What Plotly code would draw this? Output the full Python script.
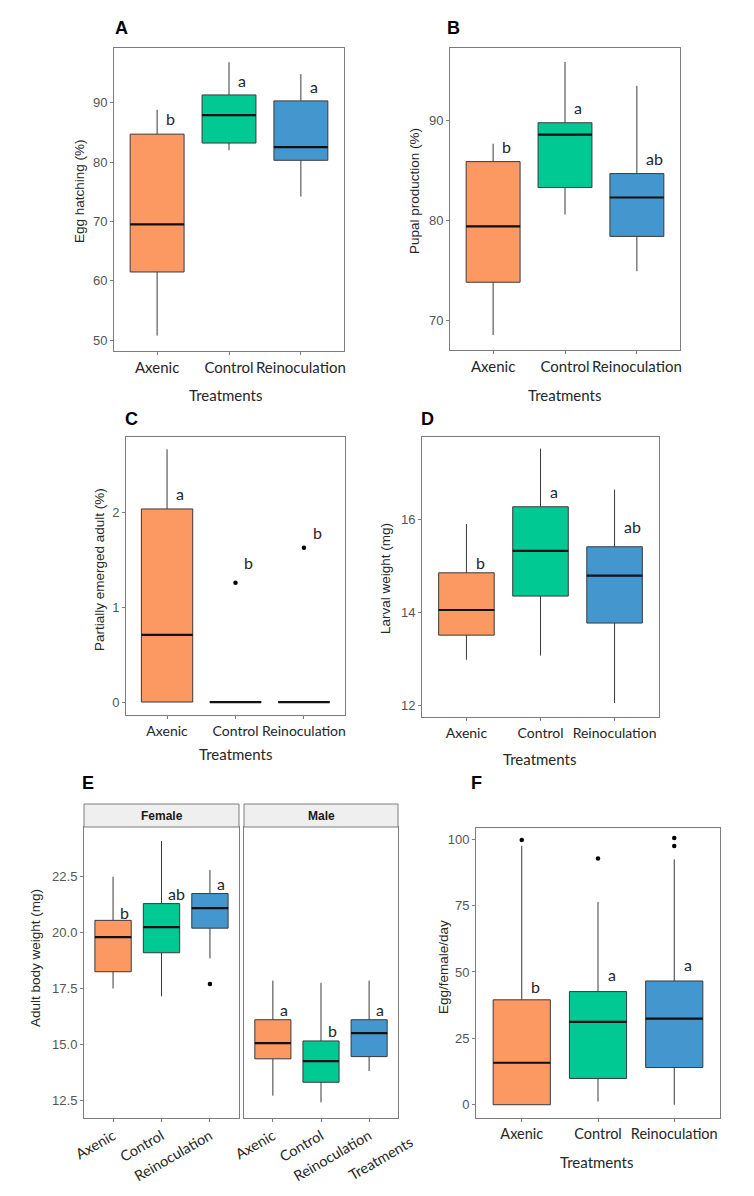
import plotly.graph_objects as go

# page body has an 8px margin; the figure is drawn so that reference pixel
# coordinates land on the same page pixels
OFF = 8
W, H = 738, 1180

treatments = ["Axenic", "Control", "Reinoculation"]
colors = ["#FC9963", "#00C994", "#4497CE"]

# ---- Panel A: Egg hatching (%)
egg_lo = [50.8, 82.0, 74.2]
egg_q1 = [61.5, 83.2, 80.3]
egg_med = [69.5, 87.9, 82.5]
egg_q3 = [84.7, 91.3, 90.3]
egg_hi = [88.8, 96.8, 94.8]
egg_letters = ["b", "a", "a"]
egg_letter_y = [87.3, 93.8, 92.7]
egg_ticks = [50, 60, 70, 80, 90]

# ---- Panel B: Pupal production (%)
pup_lo = [68.5, 80.6, 74.9]
pup_q1 = [73.8, 83.3, 78.4]
pup_med = [79.4, 88.6, 82.3]
pup_q3 = [85.9, 89.8, 84.7]
pup_hi = [87.7, 95.9, 93.5]
pup_letters = ["b", "a", "ab"]
pup_letter_y = [87.4, 91.3, 86.2]
pup_ticks = [70, 80, 90]

# ---- Panel C: Partially emerged adult (%)
pea_lo = [0.0, 0.0, 0.0]
pea_q1 = [0.0, 0.0, 0.0]
pea_med = [0.71, 0.0, 0.0]
pea_q3 = [2.04, 0.0, 0.0]
pea_hi = [2.67, 0.0, 0.0]
pea_out_x = [1, 2]
pea_out_y = [1.26, 1.63]
pea_letters = ["a", "b", "b"]
pea_letter_y = [2.2, 1.47, 1.79]
pea_ticks = [0, 1, 2]

# ---- Panel D: Larval weight (mg)
lw_lo = [12.99, 13.08, 12.06]
lw_q1 = [13.52, 14.36, 13.78]
lw_med = [14.06, 15.33, 14.8]
lw_q3 = [14.86, 16.28, 15.42]
lw_hi = [15.91, 17.53, 16.65]
lw_letters = ["b", "a", "ab"]
lw_letter_y = [15.08, 16.6, 15.85]
lw_ticks = [12, 14, 16]

# ---- Panel E: Adult body weight (mg), Female / Male
abw_f_lo = [17.5, 17.15, 18.85]
abw_f_q1 = [18.25, 19.1, 20.2]
abw_f_med = [19.8, 20.25, 21.1]
abw_f_q3 = [20.55, 21.3, 21.75]
abw_f_hi = [22.5, 24.1, 22.8]
abw_f_out_x = [2]
abw_f_out_y = [17.7]
abw_f_letters = ["b", "ab", "a"]
abw_f_letter_y = [20.9, 21.75, 22.2]

abw_m_lo = [12.7, 12.4, 13.8]
abw_m_q1 = [14.35, 13.3, 14.45]
abw_m_med = [15.05, 14.25, 15.5]
abw_m_q3 = [16.1, 15.15, 16.1]
abw_m_hi = [17.85, 17.75, 17.85]
abw_m_letters = ["a", "b", "a"]
abw_m_letter_y = [16.55, 15.6, 16.55]
abw_tickvals = [12.5, 15.0, 17.5, 20.0, 22.5]
abw_ticktext = ["12.5", "15.0", "17.5", "20.0", "22.5"]
sexes = ["Female", "Male"]

# ---- Panel F: Egg/female/day
efd_lo = [0.0, 1.2, 0.0]
efd_q1 = [0.0, 9.9, 14.0]
efd_med = [15.8, 31.2, 32.4]
efd_q3 = [39.5, 42.6, 46.6]
efd_hi = [97.5, 76.3, 92.4]
efd_out_x = [0, 1, 2, 2]
efd_out_y = [99.7, 92.7, 100.4, 97.4]
efd_letters = ["b", "a", "a"]
efd_letter_y = [44.6, 49.2, 52.7]
efd_ticks = [0, 25, 50, 75, 100]

panel_labels = ["A", "B", "C", "D", "E", "F"]
y_titles = ["Egg hatching (%)", "Pupal production (%)", "Partially emerged adult (%)",
            "Larval weight (mg)", "Adult body weight (mg)", "Egg/female/day"]
x_title = "Treatments"

FRAME = "#7d7d7d"
TICKFONT = dict(family="Liberation Sans, Arial", size=13, color="#555555")
XTICKFONT = dict(family="Lato, Open Sans", size=15, color="#262626")
LETTERFONT = dict(family="Lato, Open Sans", size=16, color="#262626")
TITLEFONT = dict(family="Liberation Sans, Arial", size=13.5, color="#262626")
XTITLEFONT = dict(family="Lato, Open Sans", size=15, color="#262626")


def px(x):
    return (x - OFF) / W


def py(y):
    return 1 - (y - OFF) / H


fig = go.Figure()
annotations = []
shapes = []


def add_boxes(ax, lo, q1, med, q3, hi, letters, letter_y, out_x=None, out_y=None):
    xa, ya = "x" + ax, "y" + ax
    for i in range(3):
        fig.add_trace(go.Box(
            x=[i], q1=[q1[i]], median=[med[i]], q3=[q3[i]],
            lowerfence=[lo[i]], upperfence=[hi[i]],
            width=0.75, whiskerwidth=0, fillcolor=colors[i],
            line=dict(color="#3a3a3a", width=1), boxpoints=False,
            xaxis=xa, yaxis=ya, showlegend=False, hoverinfo="skip"))
        fig.add_trace(go.Scatter(
            x=[i - 0.375, i + 0.375], y=[med[i], med[i]], mode="lines",
            line=dict(color="#111111", width=2.2), xaxis=xa, yaxis=ya,
            showlegend=False, hoverinfo="skip"))
        annotations.append(dict(
            x=i + 0.1, y=letter_y[i], xref=xa, yref=ya, text=letters[i],
            showarrow=False, xanchor="left", yanchor="middle", font=LETTERFONT))
    if out_x:
        fig.add_trace(go.Scatter(
            x=out_x, y=out_y, mode="markers",
            marker=dict(color="black", size=4.5), xaxis=xa, yaxis=ya,
            showlegend=False, hoverinfo="skip"))


add_boxes("", egg_lo, egg_q1, egg_med, egg_q3, egg_hi, egg_letters, egg_letter_y)
add_boxes("2", pup_lo, pup_q1, pup_med, pup_q3, pup_hi, pup_letters, pup_letter_y)
add_boxes("3", pea_lo, pea_q1, pea_med, pea_q3, pea_hi, pea_letters, pea_letter_y,
          pea_out_x, pea_out_y)
add_boxes("4", lw_lo, lw_q1, lw_med, lw_q3, lw_hi, lw_letters, lw_letter_y)
add_boxes("5", abw_f_lo, abw_f_q1, abw_f_med, abw_f_q3, abw_f_hi, abw_f_letters,
          abw_f_letter_y, abw_f_out_x, abw_f_out_y)
add_boxes("6", abw_m_lo, abw_m_q1, abw_m_med, abw_m_q3, abw_m_hi, abw_m_letters,
          abw_m_letter_y)
add_boxes("7", efd_lo, efd_q1, efd_med, efd_q3, efd_hi, efd_letters, efd_letter_y,
          efd_out_x, efd_out_y)

# panel geometry (pixels): left, right, top, bottom, y-range, x tick font size
geo = {
    "": (114, 344, 48, 351, [48.2, 99.2], 15),
    "2": (450, 680, 48, 350, [67.0, 97.3], 15),
    "3": (126, 345, 437, 715, [-0.137, 2.8], 14),
    "4": (422, 659, 437, 717, [11.76, 17.78], 14),
    "5": (84, 239, 827, 1118, [11.7, 24.73], 14.5),
    "6": (244, 398, 827, 1118, [11.7, 24.73], 14.5),
    "7": (476, 720, 828, 1118, [-5.0, 104.2], 14.5),
}
yticks = {"": egg_ticks, "2": pup_ticks, "3": pea_ticks, "4": lw_ticks,
          "5": abw_tickvals, "6": abw_tickvals, "7": efd_ticks}

layout_axes = {}
for ax, (l, r, t, b, yr, fs) in geo.items():
    xname = "xaxis" + ax
    yname = "yaxis" + ax
    layout_axes[xname] = dict(
        domain=[px(l), px(r)], range=[-0.6, 2.6], anchor="y" + ax, automargin=False,
        showline=True, mirror=True, linecolor=FRAME, linewidth=1,
        ticks="outside", ticklen=3, tickcolor=FRAME, showgrid=False, zeroline=False,
        tickvals=[0, 1, 2], ticktext=treatments, tickfont=dict(XTICKFONT, size=fs),
        tickangle=0, fixedrange=True)
    ydict = dict(
        domain=[py(b), py(t)], range=yr, anchor="x" + ax, automargin=False,
        showline=True, mirror=True, linecolor=FRAME, linewidth=1,
        ticks="outside", ticklen=3, tickcolor=FRAME, showgrid=False, zeroline=False,
        tickvals=yticks[ax], tickfont=TICKFONT, fixedrange=True)
    if ax in ("5", "6"):
        ydict["ticktext"] = abw_ticktext
        layout_axes[xname]["tickangle"] = -30
    if ax == "6":
        ydict["showticklabels"] = False
        ydict["ticks"] = ""
    layout_axes[yname] = ydict

# E facet strips
for (l, r, _, _, _, _), sex in zip([geo["5"], geo["6"]], sexes):
    shapes.append(dict(type="rect", xref="paper", yref="paper",
                       x0=px(l), x1=px(r), y0=py(827), y1=py(804),
                       fillcolor="#EFEFEF", line=dict(color=FRAME, width=1)))
    annotations.append(dict(x=px((l + r) / 2), y=py(815.5), xref="paper", yref="paper",
                            xanchor="center", yanchor="middle",
                            text="<b>" + sex + "</b>", showarrow=False,
                            font=dict(family="Liberation Sans, Arial", size=12, color="#1a1a1a")))

# panel letters
label_pos = [(121, 28), (454, 28), (131, 419), (427, 419), (88, 783), (477, 783)]
for lab, (x, y) in zip(panel_labels, label_pos):
    annotations.append(dict(x=px(x), y=py(y), xref="paper", yref="paper",
                            xanchor="center", yanchor="middle",
                            text="<b>" + lab + "</b>", showarrow=False,
                            font=dict(family="Liberation Sans, Arial", size=18, color="black")))

# y titles
ytitle_pos = [(80, 191), (415, 191), (100, 570), (385, 578), (35, 958), (443, 967)]
for txt, (x, y) in zip(y_titles, ytitle_pos):
    annotations.append(dict(x=px(x), y=py(y), xref="paper", yref="paper", text=txt,
                            xanchor="center", yanchor="middle",
                            textangle=-90, showarrow=False, font=TITLEFONT))

# x titles
xtitle_pos = [(225, 395), (564, 395), (235, 754), (539, 759), (596, 1162)]
for (x, y) in xtitle_pos:
    annotations.append(dict(x=px(x), y=py(y), xref="paper", yref="paper", text=x_title,
                            xanchor="center", yanchor="middle",
                            showarrow=False, font=XTITLEFONT))
annotations.append(dict(x=px(380), y=py(1158), xref="paper", yref="paper", text=x_title,
                        xanchor="center", yanchor="middle",
                        textangle=-30, showarrow=False, font=dict(XTITLEFONT, size=14.5)))

fig.update_layout(
    template="none",
    width=W, height=H, margin=dict(l=0, r=0, t=0, b=0, autoexpand=False),
    paper_bgcolor="white", plot_bgcolor="white",
    annotations=annotations, shapes=shapes, showlegend=False,
    **layout_axes)

fig.write_html("out.html")
